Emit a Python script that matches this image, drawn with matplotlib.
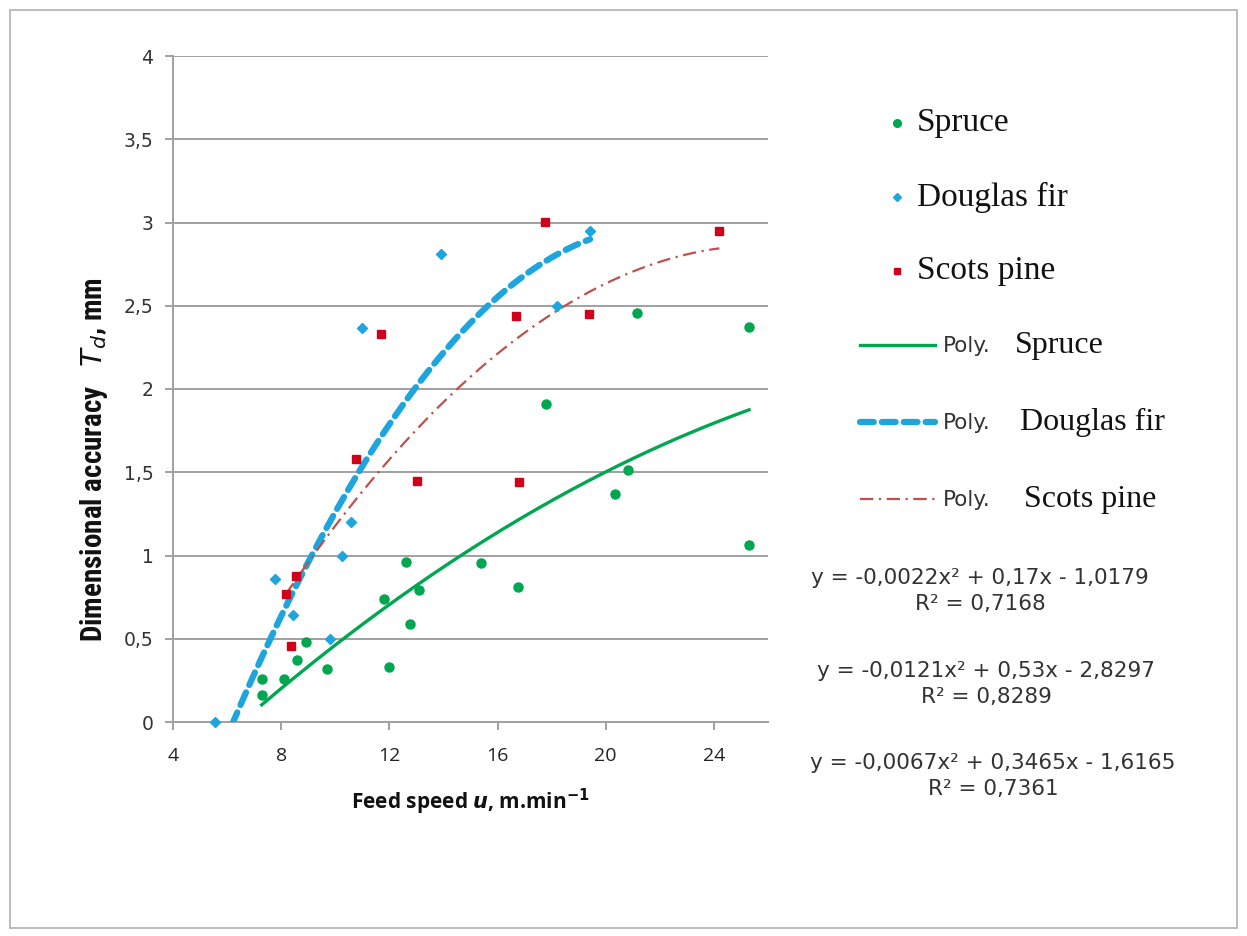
import numpy as np
import matplotlib
matplotlib.use("Agg")
import matplotlib.pyplot as plt
from matplotlib.lines import Line2D
from matplotlib.patches import Rectangle
from matplotlib import font_manager

# ---------------- data ----------------
spruce_x = [7.28, 7.28, 8.1, 8.58, 8.9, 9.68, 11.79, 12.0, 12.6, 12.78, 13.08,
            15.39, 16.76, 17.81, 20.34, 20.83, 21.14, 25.3, 25.3]
spruce_y = [0.26, 0.16, 0.26, 0.37, 0.48, 0.32, 0.74, 0.33, 0.96, 0.59, 0.79,
            0.956, 0.81, 1.91, 1.367, 1.513, 2.457, 2.37, 1.063]

douglas_x = [5.55, 7.76, 8.42, 9.79, 10.25, 10.59, 10.99, 13.91, 18.2, 19.42]
douglas_y = [0.0, 0.857, 0.64, 0.50, 1.0, 1.2, 2.366, 2.81, 2.50, 2.946]

pine_x = [8.17, 8.37, 8.56, 10.78, 11.68, 13.02, 16.7, 16.79, 17.76, 19.37, 24.2]
pine_y = [0.77, 0.456, 0.877, 1.578, 2.33, 1.446, 2.44, 1.44, 3.004, 2.45, 2.95]

# polynomial trend coefficients (a, b, c) for y = a x^2 + b x + c
spruce_coef = [-0.0022, 0.17, -1.0179]
douglas_coef = [-0.0121, 0.53, -2.8297]
pine_coef = [-0.0067, 0.3465, -1.6165]

x_ticks = [4, 8, 12, 16, 20, 24]
y_ticks = [0, 0.5, 1, 1.5, 2, 2.5, 3, 3.5, 4]
y_tick_labels = ["0", "0,5", "1", "1,5", "2", "2,5", "3", "3,5", "4"]

eq_texts = ["y = -0,0022x² + 0,17x - 1,0179", "y = -0,0121x² + 0,53x - 2,8297",
            "y = -0,0067x² + 0,3465x - 1,6165"]
r2_texts = ["R² = 0,7168", "R² = 0,8289", "R² = 0,7361"]

# ---------------- styles ----------------
GREEN = "#00A650"
BLUE = "#1EA5DD"
RED = "#D0021B"
PINE_LINE = "#C0504D"
GRID = "#A0A0A0"

available = {f.name for f in font_manager.fontManager.ttflist}
narrow = [f for f in ["Liberation Sans Narrow", "DejaVu Sans Condensed",
                      "Roboto Condensed", "Open Sans Condensed"] if f in available]
label_family = narrow + ["DejaVu Sans"]

W, H = 1247, 936
fig = plt.figure(figsize=(W / 100, H / 100), dpi=100)


def fx(px):
    return px / W


def fy(py):
    return 1 - py / H


# outer frame
fig.add_artist(Rectangle((fx(10), fy(928)), fx(1237) - fx(10), fy(10) - fy(928),
                         transform=fig.transFigure, fill=False,
                         edgecolor="#B0B0B0", linewidth=1.2))

ax = fig.add_axes([fx(173), fy(722), fx(768) - fx(173), fy(56) - fy(722)])
ax.set_xlim(4, 26)
ax.set_ylim(0, 4)

for sp in ["top", "right"]:
    ax.spines[sp].set_visible(False)
for sp in ["left", "bottom"]:
    ax.spines[sp].set_color(GRID)
    ax.spines[sp].set_linewidth(1.4)

ax.set_yticks(y_ticks)
ax.set_yticklabels(y_tick_labels, fontsize=13.5, color="#333333",
                   family="DejaVu Sans")
ax.set_xticks(x_ticks)
ax.set_xticklabels([str(t) for t in x_ticks], fontsize=14, color="#222222",
                   family="Open Sans")
ax.tick_params(axis="both", direction="out", length=6, width=1.4,
               color=GRID, pad=8)
ax.tick_params(axis="x", pad=12)
ax.yaxis.grid(True, color=GRID, linewidth=1.4)
ax.set_axisbelow(True)

# trend lines
xs = np.linspace(min(spruce_x), max(spruce_x), 200)
ax.plot(xs, np.polyval(spruce_coef, xs), color=GREEN, lw=2.4, zorder=3)
xd = np.linspace(min(douglas_x), max(douglas_x), 200)
ax.plot(xd, np.polyval(douglas_coef, xd), color=BLUE, lw=4.5,
        dashes=(2.2, 1.3), dash_capstyle="round", zorder=3)
xp = np.linspace(min(pine_x), max(pine_x), 200)
ax.plot(xp, np.polyval(pine_coef, xp), color=PINE_LINE, lw=1.6,
        dashes=(6, 2.5, 1, 2.5), zorder=3)

# scatter
ax.plot(spruce_x, spruce_y, "o", color=GREEN, ms=6.5, mec=GREEN, zorder=4,
        clip_on=False)
ax.plot(douglas_x, douglas_y, "D", color=BLUE, ms=5.5, mec=BLUE, zorder=4,
        clip_on=False)
ax.plot(pine_x, pine_y, "s", color=RED, ms=5.5, mec=RED, zorder=4,
        clip_on=False)

# axis labels
fig.text(fx(470), fy(802), r"Feed speed $\mathbfit{u}$, m.min$^{\mathbf{-1}}$",
         ha="center", va="center", fontsize=15, fontweight="bold",
         family=["Open Sans", "DejaVu Sans"], color="#111111")
fig.text(fx(94), fy(460), r"Dimensional accuracy   $\mathit{T_d}$, mm",
         ha="center", va="center", rotation=90,
         fontsize=21 if narrow else 18, fontweight="bold",
         family=label_family, color="#111111")

# manual legend
serif = ["Liberation Serif", "DejaVu Serif"]
mk_entries = [("o", GREEN, "Spruce", 123), ("D", BLUE, "Douglas fir", 197),
              ("s", RED, "Scots pine", 271)]
for m, c, lab, yy in mk_entries:
    ms = 5.5 if m == "o" else 4.5
    fig.add_artist(Line2D([fx(897)], [fy(yy)], marker=m, color=c, mec=c, ms=ms,
                          linestyle="none", transform=fig.transFigure))
    fig.text(fx(917), fy(yy), lab, ha="left", va="center", fontsize=24,
             family=serif, color="#111111")

ln_entries = [(dict(color=GREEN, lw=2.4), "Spruce", 345, 1015),
              (dict(color=BLUE, lw=4.5, dashes=(2.2, 1.3), dash_capstyle="round"),
               "Douglas fir", 422, 1020),
              (dict(color=PINE_LINE, lw=1.6, dashes=(6, 2.5, 1, 2.5)),
               "Scots pine", 499, 1024)]
for kw, lab, yy, xt in ln_entries:
    fig.add_artist(Line2D([fx(860), fx(935)], [fy(yy), fy(yy)],
                          transform=fig.transFigure, **kw))
    fig.text(fx(943), fy(yy + 1), "Poly.", ha="left", va="center", fontsize=15.5,
             family="DejaVu Sans", color="#333333")
    fig.text(fx(xt), fy(yy), lab, ha="left", va="center", fontsize=23,
             family=serif, color="#111111")

eq_pos = [(980, 578, 604), (986, 671, 697), (993, 763, 789)]
for (cx, y1, y2), e, r in zip(eq_pos, eq_texts, r2_texts):
    fig.text(fx(cx), fy(y1), e, ha="center", va="center", fontsize=15.5,
             family="DejaVu Sans", color="#333333")
    fig.text(fx(cx), fy(y2), r, ha="center", va="center", fontsize=15.5,
             family="DejaVu Sans", color="#333333")

fig.savefig("out.png", dpi=100)
